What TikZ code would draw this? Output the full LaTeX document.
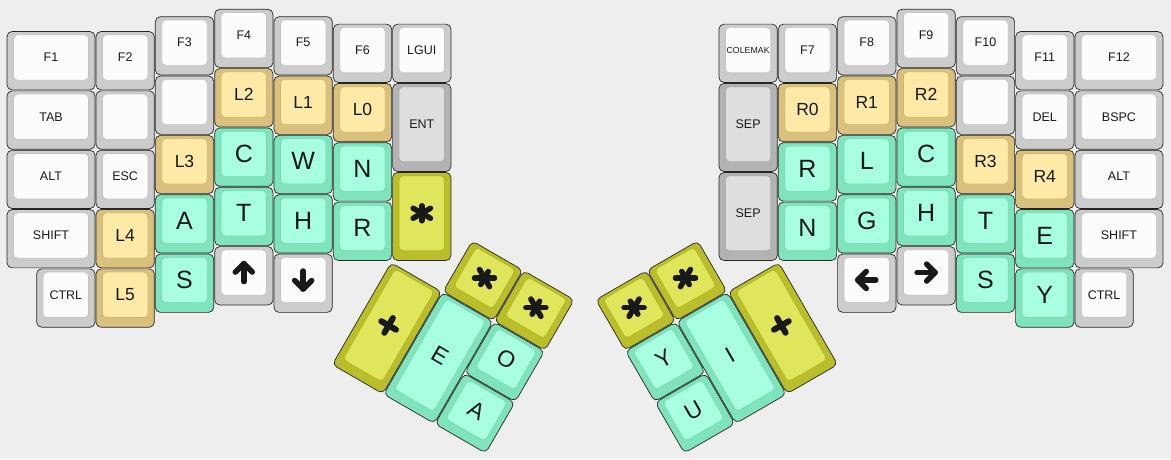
\documentclass[tikz,border=0pt]{standalone}
\usepackage{fontspec}
\setmainfont{Liberation Sans}
\definecolor{bgc}{HTML}{EEEEEE}
\definecolor{gro}{HTML}{CCCCCC}\definecolor{gri}{HTML}{FCFCFC}\definecolor{grb}{HTML}{C2C2C2}
\definecolor{dko}{HTML}{B3B3B3}\definecolor{dki}{HTML}{DEDEDE}\definecolor{dkb}{HTML}{ABABAB}
\definecolor{tno}{HTML}{D9C07C}\definecolor{tni}{HTML}{FFE9A6}\definecolor{tnb}{HTML}{CFB571}
\definecolor{tlo}{HTML}{7FE4BB}\definecolor{tli}{HTML}{A8FEE1}\definecolor{tlb}{HTML}{74D8AE}
\definecolor{olo}{HTML}{B9BE2A}\definecolor{oli}{HTML}{E0E65B}\definecolor{olb}{HTML}{AEB322}
\newcommand\kfa{\fontsize{12.5pt}{14pt}\selectfont}
\newcommand\kfb{\fontsize{8.8pt}{10pt}\selectfont}
\newcommand\kfc{\fontsize{17.5pt}{20pt}\selectfont}
\newcommand\kfd{\fontsize{25pt}{28pt}\selectfont}
\newcommand\kfe{\fontsize{23pt}{26pt}\selectfont}
\tikzset{
  keyo/.style={rectangle, inner sep=0pt, rounded corners=5pt, draw=black!85, line width=0.7pt, fill=#1o},
  keyi/.style={rectangle, inner sep=0pt, rounded corners=4pt, draw=#1b, line width=0.6pt, fill=#1i, text=black!90},
  icon/.style={draw=black!90, line width=5.5pt, line cap=round, line join=round}
}
\newcommand\kk[8]{%
  \node[keyo=#6, minimum width={#4*59.33pt-1pt}, minimum height={#5*59.33pt-1pt}] (#1) at ({#2+#4/2},{#3+#5/2}) {};
  \node[keyi=#6, minimum width={#4*59.33pt-14pt}, minimum height={#5*59.33pt-14pt}] (#1t) at ({#2+#4/2},{#3+#5/2-0.054}) {#7};
  \begin{scope}[shift={({#2+#4/2},{#3+#5/2-0.054})}]#8\end{scope}%
}
\newcommand\icarrow[1]{\begin{scope}[rotate=#1]\draw[icon] (0,-9pt) -- (0,9pt); \draw[icon] (-8.5pt,0.5pt) -- (0,9pt) -- (8.5pt,0.5pt);\end{scope}}
\newcommand\icast{\draw[icon] (90:7.5pt) -- (270:7.5pt); \draw[icon] (30:10pt) -- (210:10pt); \draw[icon] (150:10pt) -- (330:10pt);}
\newcommand\icplus{\draw[icon, line width=6pt] (-8.5pt,0) -- (8.5pt,0); \draw[icon, line width=6pt] (0,-8.5pt) -- (0,8.5pt);}
\begin{document}
\begin{tikzpicture}
\fill[bgc] (0,0) rectangle (1171pt,-459pt);
\useasboundingbox (0,0) rectangle (1171pt,-459pt);
\begin{scope}[x=59.33pt, y=-59.33pt, shift={(6.5pt,-8.8pt)}]
% left half
\kk{kf1}{0}{.375}{1.5}{1}{gr}{\kfa F1}{}
\kk{ktab}{0}{1.375}{1.5}{1}{gr}{\kfa TAB}{}
\kk{klalt}{0}{2.375}{1.5}{1}{gr}{\kfa ALT}{}
\kk{klshift}{0}{3.375}{1.5}{1}{gr}{\kfa SHIFT}{}
\kk{klctrl}{.5}{4.375}{1}{1}{gr}{\kfa CTRL}{}
\kk{kf2}{1.5}{.375}{1}{1}{gr}{\kfa F2}{}
\kk{klb1}{1.5}{1.375}{1}{1}{gr}{}{}
\kk{kesc}{1.5}{2.375}{1}{1}{gr}{\kfa ESC}{}
\kk{kl4}{1.5}{3.375}{1}{1}{tn}{\kfc L4}{}
\kk{kl5}{1.5}{4.375}{1}{1}{tn}{\kfc L5}{}
\kk{kf3}{2.5}{.125}{1}{1}{gr}{\kfa F3}{}
\kk{klb2}{2.5}{1.125}{1}{1}{gr}{}{}
\kk{kl3}{2.5}{2.125}{1}{1}{tn}{\kfc L3}{}
\kk{kla}{2.5}{3.125}{1}{1}{tl}{\kfd A}{}
\kk{kls}{2.5}{4.125}{1}{1}{tl}{\kfd S}{}
\kk{kf4}{3.5}{0}{1}{1}{gr}{\kfa F4}{}
\kk{kl2}{3.5}{1}{1}{1}{tn}{\kfc L2}{}
\kk{klc}{3.5}{2}{1}{1}{tl}{\kfd C}{}
\kk{klt}{3.5}{3}{1}{1}{tl}{\kfd T}{}
\kk{kup}{3.5}{4}{1}{1}{gr}{}{\icarrow{0}}
\kk{kf5}{4.5}{.125}{1}{1}{gr}{\kfa F5}{}
\kk{kl1}{4.5}{1.125}{1}{1}{tn}{\kfc L1}{}
\kk{klw}{4.5}{2.125}{1}{1}{tl}{\kfd W}{}
\kk{klh}{4.5}{3.125}{1}{1}{tl}{\kfd H}{}
\kk{kdown}{4.5}{4.125}{1}{1}{gr}{}{\icarrow{180}}
\kk{kf6}{5.5}{.25}{1}{1}{gr}{\kfa F6}{}
\kk{kl0}{5.5}{1.25}{1}{1}{tn}{\kfc L0}{}
\kk{kln}{5.5}{2.25}{1}{1}{tl}{\kfd N}{}
\kk{klr}{5.5}{3.25}{1}{1}{tl}{\kfd R}{}
\kk{klgui}{6.5}{.25}{1}{1}{gr}{\kfa LGUI}{}
\kk{kent}{6.5}{1.25}{1}{1.5}{dk}{\kfa ENT}{}
\kk{klast}{6.5}{2.75}{1}{1.5}{ol}{}{\icast}
% right half
\kk{kcolemak}{12}{.25}{1}{1}{gr}{\kfb COLEMAK}{}
\kk{ksep1}{12}{1.25}{1}{1.5}{dk}{\kfa SEP}{}
\kk{ksep2}{12}{2.75}{1}{1.5}{dk}{\kfa SEP}{}
\kk{kf7}{13}{.25}{1}{1}{gr}{\kfa F7}{}
\kk{kr0}{13}{1.25}{1}{1}{tn}{\kfc R0}{}
\kk{krr}{13}{2.25}{1}{1}{tl}{\kfd R}{}
\kk{krn}{13}{3.25}{1}{1}{tl}{\kfd N}{}
\kk{kf8}{14}{.125}{1}{1}{gr}{\kfa F8}{}
\kk{kr1}{14}{1.125}{1}{1}{tn}{\kfc R1}{}
\kk{krl}{14}{2.125}{1}{1}{tl}{\kfd L}{}
\kk{krg}{14}{3.125}{1}{1}{tl}{\kfd G}{}
\kk{kleft}{14}{4.125}{1}{1}{gr}{}{\icarrow{90}}
\kk{kf9}{15}{0}{1}{1}{gr}{\kfa F9}{}
\kk{kr2}{15}{1}{1}{1}{tn}{\kfc R2}{}
\kk{krc}{15}{2}{1}{1}{tl}{\kfd C}{}
\kk{krh}{15}{3}{1}{1}{tl}{\kfd H}{}
\kk{kright}{15}{4}{1}{1}{gr}{}{\icarrow{-90}}
\kk{kf10}{16}{.125}{1}{1}{gr}{\kfa F10}{}
\kk{krb1}{16}{1.125}{1}{1}{gr}{}{}
\kk{kr3}{16}{2.125}{1}{1}{tn}{\kfc R3}{}
\kk{krt}{16}{3.125}{1}{1}{tl}{\kfd T}{}
\kk{krs}{16}{4.125}{1}{1}{tl}{\kfd S}{}
\kk{kf11}{17}{.375}{1}{1}{gr}{\kfa F11}{}
\kk{kdel}{17}{1.375}{1}{1}{gr}{\kfa DEL}{}
\kk{kr4}{17}{2.375}{1}{1}{tn}{\kfc R4}{}
\kk{kre}{17}{3.375}{1}{1}{tl}{\kfd E}{}
\kk{kry}{17}{4.375}{1}{1}{tl}{\kfd Y}{}
\kk{kf12}{18}{.375}{1.5}{1}{gr}{\kfa F12}{}
\kk{kbspc}{18}{1.375}{1.5}{1}{gr}{\kfa BSPC}{}
\kk{kralt}{18}{2.375}{1.5}{1}{gr}{\kfa ALT}{}
\kk{krshift}{18}{3.375}{1.5}{1}{gr}{\kfa SHIFT}{}
\kk{krctrl}{18}{4.375}{1}{1}{gr}{\kfa CTRL}{}
\end{scope}
% left thumb cluster
\begin{scope}[shift={(391pt,-262pt)}, rotate=-30, transform shape, x=59.33pt, y=-59.33pt]
\kk{ktlplus}{0}{0}{1}{2}{ol}{}{\icplus}
\kk{ktle}{1}{0}{1}{2}{tl}{\kfe E}{}
\kk{ktlst1}{1}{-1}{1}{1}{ol}{}{\icast}
\kk{ktlst2}{2}{-1}{1}{1}{ol}{}{\icast}
\kk{ktlo}{2}{0}{1}{1}{tl}{\kfe O}{}
\kk{ktla}{2}{1}{1}{1}{tl}{\kfe A}{}
\end{scope}
% right thumb cluster
\begin{scope}[shift={(779pt,-262pt)}, rotate=30, transform shape, x=59.33pt, y=-59.33pt]
\kk{ktrplus}{-1}{0}{1}{2}{ol}{}{\icplus}
\kk{ktri}{-2}{0}{1}{2}{tl}{\kfe I}{}
\kk{ktrst1}{-2}{-1}{1}{1}{ol}{}{\icast}
\kk{ktrst2}{-3}{-1}{1}{1}{ol}{}{\icast}
\kk{ktry}{-3}{0}{1}{1}{tl}{\kfe Y}{}
\kk{ktru}{-3}{1}{1}{1}{tl}{\kfe U}{}
\end{scope}
\end{tikzpicture}
\end{document}
